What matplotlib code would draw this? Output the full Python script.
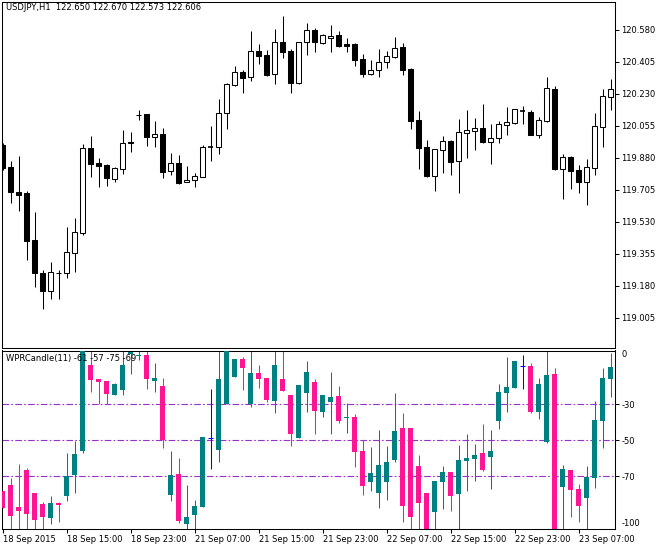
import matplotlib
matplotlib.use("Agg")
import matplotlib.pyplot as plt
import numpy as np

# ---------------- data ----------------
price_open = [119.950, 119.830, 119.693, 119.688, 119.429, 119.250, 119.153, 119.252, 119.251, 119.361,
              119.467, 119.934, 119.854, 119.841, 119.766, 119.821, 119.965, 120.117, 120.120, 119.996,
              120.011, 119.807, 119.850, 119.746, 119.757, 119.777, 119.938, 119.938, 120.124, 120.281,
              120.348, 120.321, 120.463, 120.442, 120.341, 120.513, 120.463, 120.290, 120.513, 120.578,
              120.510, 120.535, 120.551, 120.502, 120.503, 120.421, 120.341, 120.359, 120.403, 120.434,
              120.487, 120.367, 120.087, 119.938, 119.782, 119.925, 119.972, 119.865, 120.018, 120.029,
              120.044, 119.969, 119.987, 120.062, 120.069, 120.135, 120.131, 120.007, 120.080, 120.257,
              119.821, 119.885, 119.814, 119.750, 119.826, 120.051, 120.215]
price_high = [119.961, 119.863, 119.890, 119.700, 119.584, 119.266, 119.310, 119.265, 119.502, 119.551,
              119.956, 120.000, 119.878, 119.847, 119.830, 120.033, 120.022, 120.140, 120.121, 120.082,
              120.042, 119.907, 119.896, 119.836, 119.797, 119.951, 120.055, 120.202, 120.288, 120.383,
              120.359, 120.575, 120.503, 120.471, 120.585, 120.657, 120.476, 120.514, 120.618, 120.589,
              120.556, 120.607, 120.575, 120.536, 120.509, 120.449, 120.416, 120.476, 120.463, 120.540,
              120.507, 120.369, 120.135, 119.976, 119.929, 120.000, 119.975, 120.093, 120.142, 120.098,
              120.175, 120.065, 120.082, 120.159, 120.150, 120.164, 120.142, 120.104, 120.323, 120.273,
              119.901, 119.888, 119.841, 119.874, 120.126, 120.257, 120.312]
price_low = [119.814, 119.635, 119.589, 119.321, 119.175, 119.054, 119.109, 119.109, 119.224, 119.257,
             119.458, 119.775, 119.721, 119.728, 119.750, 119.793, 119.914, 120.089, 119.947, 119.941,
             119.770, 119.788, 119.739, 119.745, 119.722, 119.775, 119.865, 119.903, 120.040, 120.275,
             120.237, 120.302, 120.394, 120.330, 120.284, 120.428, 120.237, 120.286, 120.445, 120.461,
             120.505, 120.461, 120.487, 120.461, 120.385, 120.324, 120.335, 120.324, 120.374, 120.428,
             120.335, 120.040, 119.821, 119.775, 119.700, 119.799, 119.788, 119.689, 119.881, 119.925,
             119.961, 119.848, 119.963, 120.007, 120.067, 120.067, 120.003, 119.990, 120.076, 119.814,
             119.657, 119.711, 119.689, 119.624, 119.788, 119.941, 120.144]
price_close = [119.826, 119.695, 119.678, 119.427, 119.251, 119.153, 119.254, 119.249, 119.363, 119.474,
               119.934, 119.848, 119.837, 119.770, 119.825, 119.961, 119.960, 120.115, 119.996, 120.011,
               119.804, 119.850, 119.742, 119.757, 119.779, 119.938, 119.938, 120.124, 120.283, 120.348,
               120.319, 120.463, 120.439, 120.334, 120.513, 120.461, 120.292, 120.513, 120.578, 120.516,
               120.551, 120.546, 120.492, 120.494, 120.417, 120.341, 120.359, 120.403, 120.436, 120.480,
               120.363, 120.084, 119.936, 119.781, 119.927, 119.971, 119.859, 120.020, 120.033, 120.044,
               119.967, 119.989, 120.065, 120.076, 120.148, 120.135, 120.007, 120.087, 120.263, 119.819,
               119.885, 119.810, 119.750, 119.830, 120.055, 120.219, 120.257]

wpr_open = [-78.0, -74.8, -87.1, -66.5, -79.3, -85.4, -93.2, -84.8, -80.8, -69.1,
            -55.9, -8.2, -15.8, -17.1, -24.7, -21.9, -2.0, -3.2, -2.6, -16.9,
            -19.8, -80.2, -68.7, -96.3, -91.3, -86.9, -48.9, -55.2, -29.7, -15.0,
            -4.8, -30.0, -12.6, -15.4, -28.0, -15.9, -24.8, -48.7, -23.6, -17.6,
            -34.1, -28.6, -25.4, -37.8, -36.9, -55.9, -73.2, -79.3, -73.0, -60.9,
            -43.2, -43.2, -64.3, -79.1, -89.8, -73.0, -67.6, -79.7, -61.3, -60.2,
            -57.1, -59.1, -39.1, -23.6, -21.1, -8.9, -8.7, -34.1, -50.9, -13.2,
            -75.8, -66.5, -77.1, -81.9, -70.8, -39.1, -15.8]
wpr_high = [-78.0, -70.9, -63.0, -65.6, -79.3, -84.1, -80.9, -84.1, -56.9, -50.2,
            0.0, 0.0, -15.8, -17.1, -18.0, 0.0, 0.0, 0.0, 0.0, -7.2,
            -15.2, -55.9, -59.7, -74.8, -83.0, -48.2, -21.3, 0.0, 0.0, -4.8,
            -3.6, 0.0, -8.2, -15.4, 0.0, 0.0, -24.8, -19.3, -5.8, -15.9,
            -24.8, -12.1, -19.8, -29.1, -35.4, -50.0, -53.6, -44.1, -53.0, -23.6,
            -34.7, -43.2, -58.0, -79.1, -72.6, -64.3, -67.6, -52.4, -46.5, -52.1,
            -40.9, -44.3, -18.7, -3.7, -5.9, -2.6, -7.1, -15.4, 0.0, -9.8,
            -63.6, -66.5, -74.3, -64.3, -28.0, -9.8, -1.5]
wpr_low = [-87.4, -100.0, -100.0, -100.0, -100.0, -100.0, -96.3, -95.2, -83.6, -79.1,
           -56.9, -23.2, -30.0, -30.0, -25.0, -24.7, -13.0, -5.4, -21.3, -23.0,
           -54.3, -83.6, -96.1, -100.0, -100.0, -86.9, -65.8, -61.9, -29.7, -15.0,
           -21.9, -31.3, -20.9, -28.6, -34.7, -22.4, -53.0, -48.7, -34.1, -46.5,
           -36.9, -46.5, -40.4, -45.8, -64.8, -80.2, -78.0, -87.4, -83.0, -61.9,
           -95.6, -100.0, -100.0, -100.0, -100.0, -88.0, -89.1, -100.0, -78.0, -72.4,
           -67.1, -76.9, -43.6, -34.1, -21.1, -21.3, -34.8, -38.0, -51.5, -100.0,
           -100.0, -92.4, -95.2, -100.0, -76.3, -54.1, -25.8]
wpr_close = [-87.4, -91.9, -89.1, -90.9, -94.1, -92.6, -84.8, -85.8, -69.8, -57.6,
             0.0, -16.3, -17.4, -24.1, -18.7, -8.2, -1.0, -2.6, -15.8, -15.2,
             -49.8, -69.3, -94.7, -92.6, -86.5, -48.2, -48.9, -15.9, 0.0, -4.8,
             -9.7, -12.6, -15.8, -27.4, -8.2, -22.4, -46.5, -19.3, -12.1, -33.6,
             -24.8, -25.8, -39.3, -36.9, -56.5, -75.4, -68.2, -63.7, -61.9, -44.8,
             -86.5, -92.6, -84.7, -100.0, -72.6, -67.6, -80.8, -60.9, -59.8, -58.2,
             -66.5, -55.9, -23.2, -20.4, -5.9, -8.9, -34.3, -18.7, -13.7, -100.0,
             -65.9, -77.4, -86.3, -70.2, -38.7, -15.4, -9.3]

time_labels = ["18 Sep 2015", "18 Sep 15:00", "18 Sep 23:00", "21 Sep 07:00", "21 Sep 15:00",
               "21 Sep 23:00", "22 Sep 07:00", "22 Sep 15:00", "22 Sep 23:00", "23 Sep 07:00"]
price_ticks = [120.580, 120.405, 120.230, 120.055, 119.880, 119.705, 119.530, 119.355, 119.180, 119.005]
wpr_levels = [-30, -50, -70]

title_main = "USDJPY,H1  122.650 122.670 122.573 122.606"
title_ind = "WPRCandle(11) -61 -57 -75 -69"

# ---------------- figure ----------------
W, H = 668, 549
FS = 6.0
fig = plt.figure(figsize=(W / 100, H / 100), dpi=100)
fig.patch.set_facecolor("white")

def fx(px):
    return px / W

def fy(py):
    return 1 - py / H

ax1 = fig.add_axes([fx(2), fy(348), fx(615) - fx(2), fy(2) - fy(348)])
ax2 = fig.add_axes([fx(2), fy(528.7), fx(615) - fx(2), fy(350.5) - fy(528.7)])

n = len(price_open)
x = np.arange(n)
lw = 0.75
bw = 0.6

for ax in (ax1, ax2):
    ax.set_xlim(-0.09, 76.54)
    for s in ax.spines.values():
        s.set_linewidth(lw)
        s.set_color("black")
    ax.set_facecolor("white")

# main candles
po = np.array(price_open); ph = np.array(price_high)
pl = np.array(price_low); pc = np.array(price_close)
ax1.vlines(x, pl, ph, color="black", linewidth=lw, zorder=1)
up = pc > po
dn = pc < po
eq = pc == po
ax1.bar(x[up], (pc - po)[up], bottom=po[up], width=bw, color="white",
        edgecolor="black", linewidth=lw, zorder=2)
ax1.bar(x[dn], (po - pc)[dn], bottom=pc[dn], width=bw, color="black",
        edgecolor="black", linewidth=lw, zorder=2)
ax1.hlines(po[eq], x[eq] - bw / 2, x[eq] + bw / 2, color="black", linewidth=1.2, zorder=2)
ax1.set_ylim(118.839, 120.733)
ax1.yaxis.tick_right()
ax1.set_yticks(price_ticks)
ax1.set_yticklabels([f"{v:.3f}" for v in price_ticks])
ax1.set_xticks([])
ax1.tick_params(axis="y", direction="out", length=3, width=lw, pad=1.5,
                labelsize=FS, colors="black")
ax1.text(0.007, 0.983, title_main, transform=ax1.transAxes, fontsize=FS,
         va="center", ha="left", color="black", zorder=10)

# indicator
TEAL = "#008080"
PINK = "#FF1493"
BLUE = "#0000FF"
wo = np.array(wpr_open); wh = np.array(wpr_high)
wl = np.array(wpr_low); wc = np.array(wpr_close)
cols = [TEAL if c > o else (PINK if c < o else BLUE) for o, c in zip(wo, wc)]
for lev in wpr_levels:
    ax2.axhline(lev, color="#9932CC", linewidth=0.8, linestyle=(0, (6, 2, 1.5, 2)), zorder=1)
ax2.vlines(x, wl, wh, colors=cols, linewidth=lw, zorder=2)
for i in range(n):
    o, c = wo[i], wc[i]
    if o == c:
        ax2.hlines(o, i - bw / 2, i + bw / 2, color=cols[i], linewidth=lw, zorder=3)
    else:
        ax2.bar(i, abs(c - o), bottom=min(o, c), width=bw, color=cols[i],
                linewidth=0, zorder=3)
ax2.set_ylim(-99.1, -0.1)
ax2.yaxis.tick_right()
ax2.set_yticks(wpr_levels)
ax2.set_yticklabels([str(v) for v in wpr_levels])
ax2.tick_params(axis="y", direction="out", length=3, width=lw, pad=1.5,
                labelsize=FS, colors="black")
ax2.set_xticks(np.arange(0, 80, 8))
ax2.set_xticklabels(time_labels, ha="left")
ax2.tick_params(axis="x", direction="out", length=3, width=lw, pad=1.5,
                labelsize=FS, colors="black")
ax2.text(1.01, 0.975, "0", transform=ax2.transAxes, fontsize=FS, va="center", ha="left")
ax2.text(1.01, 0.03, "-100", transform=ax2.transAxes, fontsize=FS, va="center", ha="left")
ax2.text(0.007, 0.955, title_ind, transform=ax2.transAxes, fontsize=FS,
         va="center", ha="left", color="black", zorder=10)

fig.savefig("out.png", dpi=100, facecolor="white")
